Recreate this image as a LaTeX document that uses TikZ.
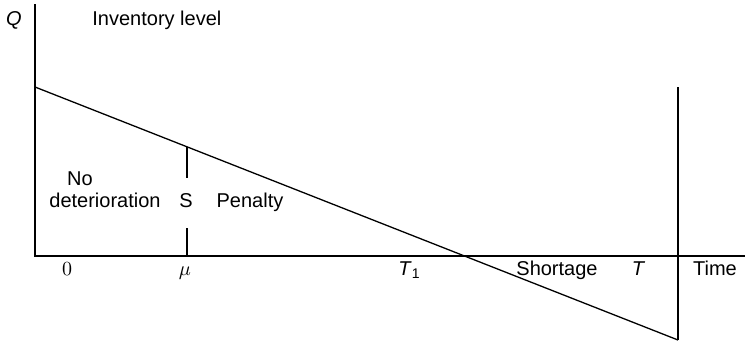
\documentclass[tikz,border=0pt]{standalone}
\usepackage{fontspec}
\setmainfont{Liberation Sans}
\begin{document}
\begin{tikzpicture}[x=0.5pt,y=-0.5pt,
  lbl/.style={anchor=base,inner sep=0pt,font=\fontsize{10}{12}\selectfont},
  axisline/.style={line width=0.75pt},
  curve/.style={line width=0.65pt}]
\useasboundingbox (0,0) rectangle (745,343);
% axes
\coordinate (ytop) at (35,4);
\coordinate (origin) at (35,256);
\coordinate (xend) at (745,256);
\draw[axisline] (ytop) -- (origin) -- (xend);
% inventory line
\coordinate (start) at (35,87);
\coordinate (finish) at (678,340);
\draw[curve] (start) -- (finish);
% vertical at T
\coordinate (Ttop) at (678,87);
\draw[axisline] (Ttop) -- (finish);
% mu split line
\coordinate (mutop) at (187,146.8);
\coordinate (mua) at (187,178);
\coordinate (mub) at (187,228);
\coordinate (mubot) at (187,256);
\draw[curve] (mutop) -- (mua);
\draw[curve] (mub) -- (mubot);
% labels
\node[lbl] (q) at (14,25) {\itshape Q};
\node[lbl,anchor=base west] (inv) at (92,25) {Inventory level};
\node[lbl] (no) at (80,185) {No};
\node[lbl] (det) at (105,207) {deterioration};
\node[lbl] (s) at (186,207) {S};
\node[lbl] (pen) at (250,207) {Penalty};
\node[lbl] (zero) at (67,275) {$0$};
\node[lbl] (mu) at (185,275) {$\mu$};
\node[lbl] (t1) at (409,275) {\itshape T\/\raisebox{-0.35ex}{\fontsize{7}{8}\selectfont\upshape 1}};
\node[lbl] (short) at (557,275) {Shortage};
\node[lbl] (t) at (638,275) {\itshape T};
\node[lbl] (time) at (715,275) {Time};
\end{tikzpicture}
\end{document}
